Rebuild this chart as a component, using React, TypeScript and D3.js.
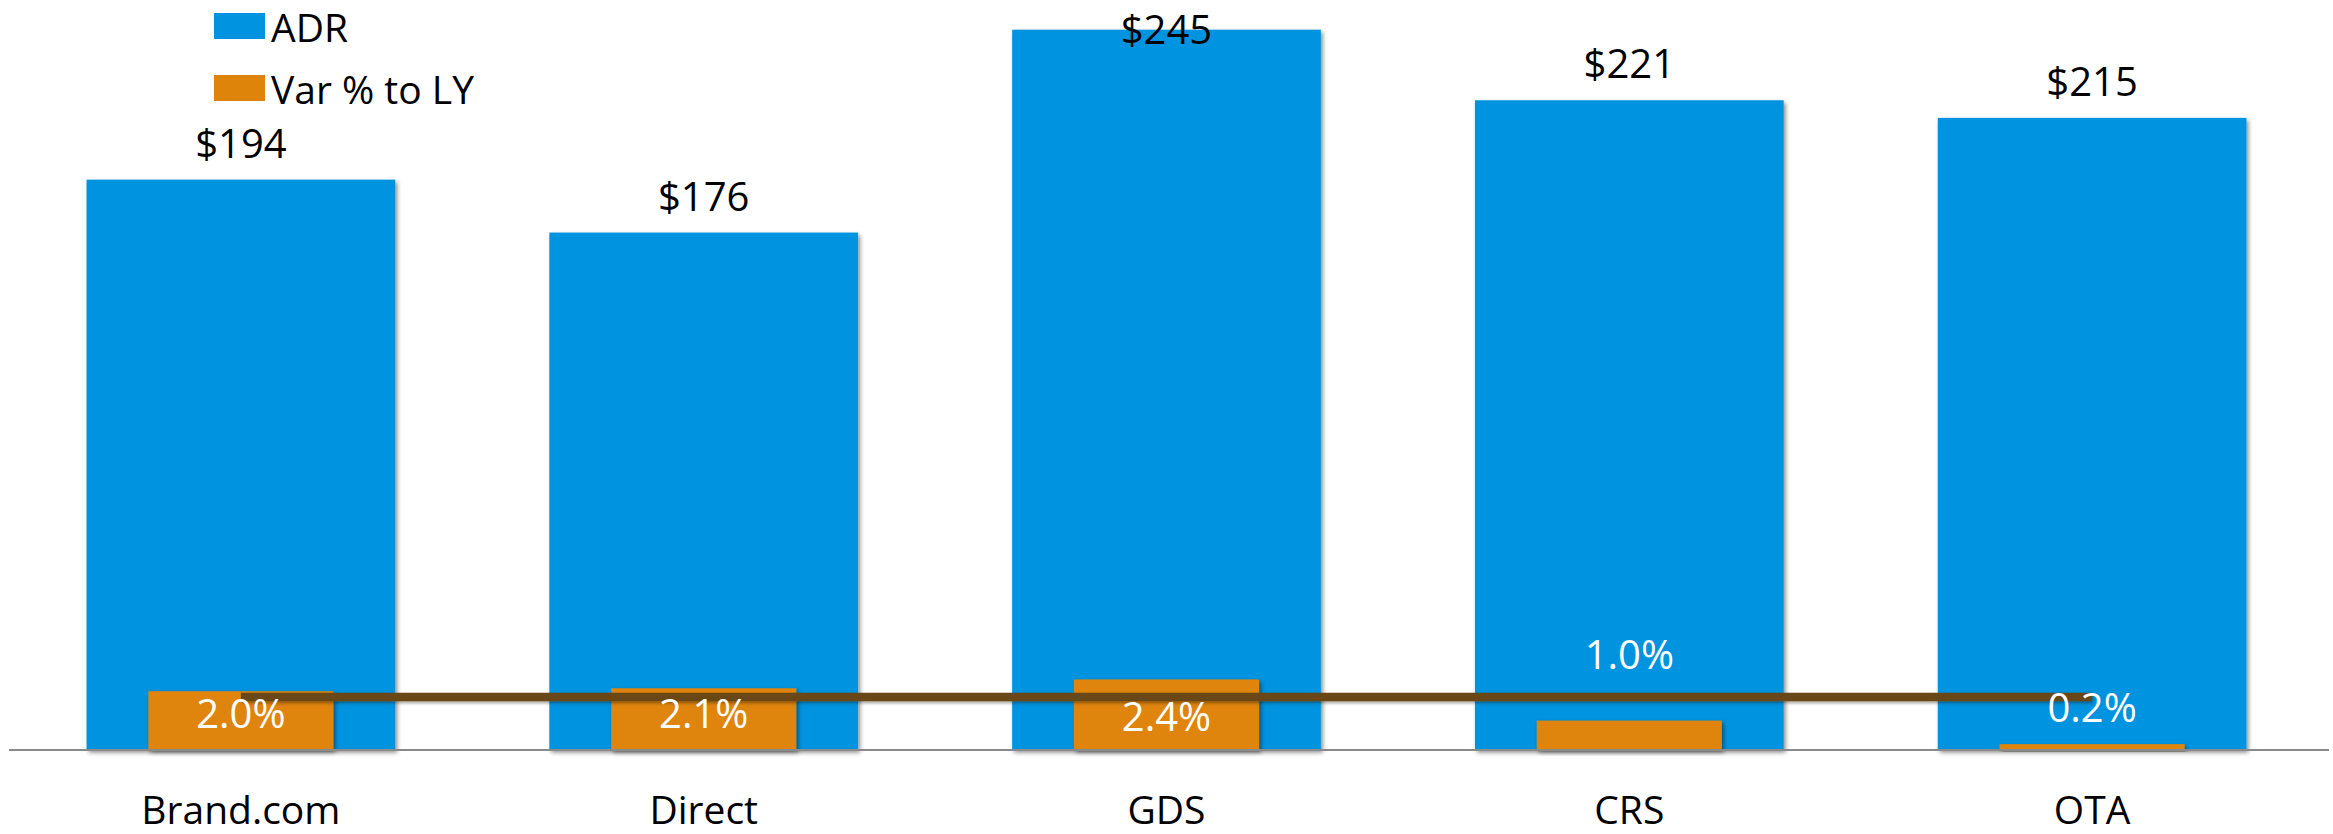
import React from "react";
import * as d3 from "d3";

// Channel ADR with year-over-year variance
const categories = ["Brand.com", "Direct", "GDS", "CRS", "OTA"];
const adrValues = [194, 176, 245, 221, 215];
const varPctValues = [2.0, 2.1, 2.4, 1.0, 0.2];
const lineValues = [1.8, 1.8, 1.8, 1.8, 1.8];
const seriesNames = ["ADR", "Var % to LY"];

// Vertical nudges for the percentage labels (px from the bar top)
const pctLabelDy = [37, 40, 52, -52, -22];

const WIDTH = 2333;
const HEIGHT = 834;
const BLUE = "#0093DF";
const ORANGE = "#DF840B";
const BROWN = "#6B4716";
const FONT = "'Open Sans', 'Noto Sans', sans-serif";

export default function App() {
  const plotLeft = 9.5;
  const plotRight = 2323.5;
  const plotTop = 15;
  const plotBottom = 750;

  const x = d3
    .scaleBand<string>()
    .domain(categories)
    .range([plotLeft, plotRight])
    .paddingInner(0)
    .paddingOuter(0);
  const step = x.step();
  const blueW = step * 0.667;
  const orangeW = step * 0.4;
  const cx = (c: string) => (x(c) as number) + step / 2;

  const yAdr = d3.scaleLinear().domain([0, 250]).range([plotBottom, plotTop]);
  const yPct = d3.scaleLinear().domain([0, 25]).range([plotBottom, plotTop]);

  const linePath = d3
    .line<number>()
    .x((_, i) => cx(categories[i]))
    .y((d) => yPct(d))(lineValues);

  return (
    <svg
      width={WIDTH}
      height={HEIGHT}
      style={{ position: "fixed", left: 0, top: 0, background: "#fff" }}
      fontFamily={FONT}
    >
      <defs>
        <filter id="barShadow" x="-10%" y="-10%" width="130%" height="130%">
          <feDropShadow dx="2" dy="2.5" stdDeviation="2" floodColor="#000" floodOpacity="0.45" />
        </filter>
        <filter
          id="lineShadow"
          filterUnits="userSpaceOnUse"
          x={0}
          y={0}
          width={WIDTH}
          height={HEIGHT}
        >
          <feDropShadow dx="1" dy="2" stdDeviation="1.5" floodColor="#000" floodOpacity="0.35" />
        </filter>
      </defs>

      {/* ADR bars */}
      {categories.map((c, i) => (
        <rect
          key={"adr-" + c}
          x={cx(c) - blueW / 2}
          y={yAdr(adrValues[i])}
          width={blueW}
          height={plotBottom - yAdr(adrValues[i])}
          fill={BLUE}
          filter="url(#barShadow)"
        />
      ))}

      {/* Variance bars */}
      {categories.map((c, i) => (
        <rect
          key={"var-" + c}
          x={cx(c) - orangeW / 2}
          y={yPct(varPctValues[i])}
          width={orangeW}
          height={plotBottom - yPct(varPctValues[i])}
          fill={ORANGE}
          filter="url(#barShadow)"
        />
      ))}

      {/* Category axis */}
      <line x1={9} x2={2329} y1={plotBottom} y2={plotBottom} stroke="#8a8a8a" strokeWidth={2} />

      {/* Flat reference line */}
      <path d={linePath ?? ""} fill="none" stroke={BROWN} strokeWidth={8.5} filter="url(#lineShadow)" />

      {/* ADR labels */}
      {categories.map((c, i) => (
        <text
          key={"adrl-" + c}
          x={cx(c)}
          y={Math.max(yAdr(adrValues[i]) - 22, 44)}
          textAnchor="middle"
          fontSize={40}
          fill="#000"
        >
          {d3.format("$,.0f")(adrValues[i])}
        </text>
      ))}

      {/* Variance labels */}
      {categories.map((c, i) => (
        <text
          key={"varl-" + c}
          x={cx(c)}
          y={yPct(varPctValues[i]) + pctLabelDy[i]}
          textAnchor="middle"
          fontSize={40}
          fill="#fff"
        >
          {d3.format(".1f")(varPctValues[i]) + "%"}
        </text>
      ))}

      {/* Category labels */}
      {categories.map((c) => (
        <text key={"cat-" + c} x={cx(c)} y={824} textAnchor="middle" fontSize={39} fill="#000">
          {c}
        </text>
      ))}

      {/* Legend */}
      {seriesNames.map((name, i) => (
        <g key={"leg-" + name} transform={`translate(214, ${13 + i * 62})`}>
          <rect x={0} y={0} width={51} height={26} fill={i === 0 ? BLUE : ORANGE} />
          <text x={57} y={29} fontSize={39} fill="#000">
            {name}
          </text>
        </g>
      ))}
    </svg>
  );
}
